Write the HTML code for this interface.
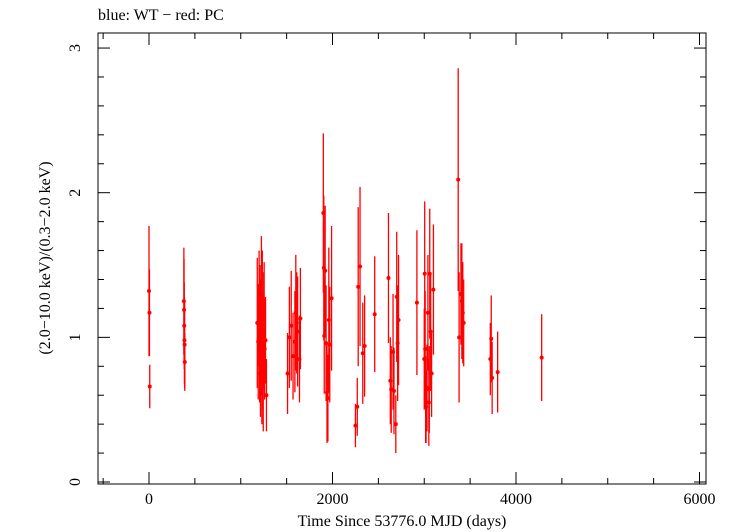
<!DOCTYPE html>
<html><head><meta charset="utf-8"><style>
body{margin:0;background:#fff}
svg{display:block;font-family:"Liberation Serif",serif}
</style></head><body>
<svg id="chart" width="737" height="532" xmlns="http://www.w3.org/2000/svg">
<text x="98" y="20" font-size="16">blue: WT − red: PC</text>
<rect x="98" y="33" width="608" height="451" fill="none" stroke="#000" stroke-width="1"/>
<g id="axes"></g>
<g id="marks"></g>
<text x="402" y="526" font-size="16" text-anchor="middle">Time Since 53776.0 MJD (days)</text>
<text transform="translate(50,258) rotate(-90)" font-size="16" text-anchor="middle">(2.0−10.0 keV)/(0.3−2.0 keV)</text>
</svg>
<script>
const xTicks=[0,2000,4000,6000];
const yTicks=[0,1,2,3];
const times=[0,5,8,380,382,384,386,388,390,
1180,1190,1200,1205,1210,1215,1220,1225,1230,1235,1240,1245,1250,1255,1260,1270,1280,
1510,1530,1550,1570,1590,1600,1610,1620,1640,1650,
1900,1905,1910,1920,1930,1940,1950,1960,1970,1990,
2250,2270,2280,2300,2330,2350,2460,
2610,2630,2640,2660,2670,2690,2700,2710,2720,2920,
3000,3005,3010,3015,3020,3030,3040,3050,3055,3060,3070,3080,3100,
3370,3380,3400,3410,3420,3430,3720,3730,3740,3800,4280];
const ratios=[1.32,1.17,0.66,1.25,1.19,1.08,0.98,0.95,0.83,
1.1,0.97,1.2,0.85,1.05,0.75,1.0,1.3,0.7,1.15,0.9,0.65,1.05,1.12,0.92,0.98,0.6,
0.75,1.0,1.08,0.87,0.97,1.17,1.1,1.04,0.85,1.13,
1.86,1.48,1.01,1.46,0.96,0.62,0.58,1.12,0.95,1.27,
0.39,0.52,1.35,1.49,0.89,0.94,1.16,
1.41,0.7,0.64,0.9,0.63,0.4,1.28,0.96,1.12,1.24,
0.85,1.44,0.92,0.57,0.52,0.65,1.17,0.55,0.64,1.44,1.04,0.75,1.33,
2.09,1.0,1.3,1.25,1.17,1.1,0.85,0.99,0.72,0.76,0.86];
const errors=[0.45,0.3,0.15,0.37,0.35,0.3,0.3,0.3,0.2,
0.45,0.4,0.4,0.3,0.45,0.3,0.4,0.4,0.3,0.45,0.4,0.3,0.4,0.4,0.35,0.3,0.25,
0.28,0.35,0.38,0.3,0.35,0.4,0.35,0.38,0.3,0.35,
0.55,0.5,0.4,0.45,0.4,0.35,0.3,0.5,0.4,0.5,
0.15,0.2,0.55,0.55,0.35,0.35,0.4,
0.45,0.3,0.3,0.4,0.3,0.2,0.45,0.4,0.45,0.5,
0.35,0.5,0.4,0.3,0.25,0.3,0.4,0.3,0.3,0.45,0.4,0.3,0.45,
0.77,0.45,0.35,0.4,0.35,0.3,0.25,0.3,0.25,0.28,0.3];
const X0=98,X1=706,Y0=484,Y1=33;
const xMin=-556,xMax=6071,yMin=-0.0138,yMax=3.104;
const sx=v=>X0+(v-xMin)/(xMax-xMin)*(X1-X0);
const sy=v=>Y0-(v-yMin)/(yMax-yMin)*(Y0-Y1);
const NS="http://www.w3.org/2000/svg";
const ax=document.getElementById('axes'),mk=document.getElementById('marks');
function ln(p,x1,y1,x2,y2,c,w){const l=document.createElementNS(NS,'line');l.setAttribute('x1',x1);l.setAttribute('y1',y1);l.setAttribute('x2',x2);l.setAttribute('y2',y2);l.setAttribute('stroke',c);l.setAttribute('stroke-width',w);p.appendChild(l);return l;}
for(let v=-500;v<=6000;v+=500){const x=sx(v);const L=v%2000===0?12:6;
const a=ln(ax,x,Y0,x,Y0-L,'#000',1);


ln(ax,x,Y1,x,Y1+L,'#000',1);}
for(let v=0;v<=3.1;v+=0.2){const y=sy(v);const L=Math.abs(v-Math.round(v))<0.01?12:6;
const a=ln(ax,X0,y,X0+L,y,'#000',1);


ln(ax,X1,y,X1-L,y,'#000',1);}
xTicks.forEach(v=>{const t=document.createElementNS(NS,'text');t.setAttribute('x',sx(v));t.setAttribute('y',504);t.setAttribute('font-size','16');t.setAttribute('text-anchor','middle');t.textContent=v;


ax.appendChild(t);});
yTicks.forEach(v=>{const t=document.createElementNS(NS,'text');t.setAttribute('transform',`translate(80,${sy(v)}) rotate(-90)`);t.setAttribute('font-size','16');t.setAttribute('text-anchor','middle');t.textContent=v;


ax.appendChild(t);});
times.forEach((t,i)=>{const x=sx(t),y=ratios[i],e=errors[i];
const l=ln(mk,x,sy(y-e),x,sy(y+e),'#ff0000',1.3);


const c=document.createElementNS(NS,'circle');c.setAttribute('cx',x);c.setAttribute('cy',sy(y));c.setAttribute('r',2);c.setAttribute('fill','#ff0000');


mk.appendChild(c);});
</script>
</body></html>
